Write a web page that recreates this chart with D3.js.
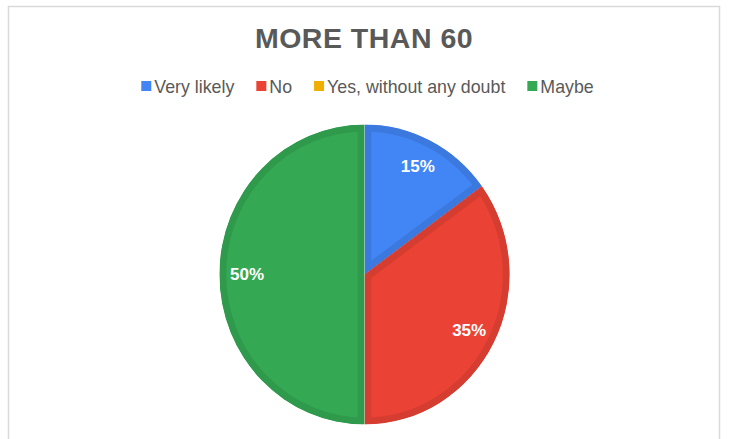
<!DOCTYPE html>
<html>
<head>
<meta charset="utf-8">
<script src="https://cdn.jsdelivr.net/npm/d3@7"></script>
<style>
  html, body { margin: 0; padding: 0; background: #ffffff; }
  svg { display: block; font-family: "Liberation Sans", Arial, sans-serif; }
</style>
</head>
<body>
<svg id="chart" width="733" height="439"></svg>
<script>
// Survey answers for the "MORE THAN 60" group
const title = "MORE THAN 60";
const categories = ["Very likely", "No", "Yes, without any doubt", "Maybe"];
const values = [15, 35, 0, 50];
const colors = ["#4285F4", "#EA4335", "#F0AE00", "#34A853"];

const W = 733, H = 439;
const svg = d3.select("#chart");

// Chart frame
svg.append("rect")
  .attr("x", 8.5).attr("y", 6.5)
  .attr("width", 711).attr("height", 460)
  .attr("fill", "#ffffff")
  .attr("stroke", "#d9d9d9")
  .attr("stroke-width", 1.5);

// Title
svg.append("text")
  .attr("x", 364).attr("y", 48)
  .attr("text-anchor", "middle")
  .attr("font-size", 28.5)
  .attr("font-weight", "bold")
  .attr("fill", "#595959")
  .attr("letter-spacing", 0.5)
  .text(title);

// Legend: swatch + label, laid out from measured text widths and centred
const legend = svg.append("g");
const fontSize = 17.8, sw = 10, gapIn = 3, gapOut = 22;
const items = legend.selectAll("g.item").data(categories).join("g").attr("class", "item");
items.append("rect")
  .attr("width", sw).attr("height", sw)
  .attr("y", 81)
  .attr("fill", (d, i) => colors[i]);
items.append("text")
  .attr("x", sw + gapIn).attr("y", 93)
  .attr("font-size", fontSize)
  .attr("fill", "#595959")
  .text(d => d);
let xPos = 0;
const offsets = [];
items.each(function () {
  const tw = d3.select(this).select("text").node().getComputedTextLength();
  offsets.push(xPos);
  xPos += sw + gapIn + tw + gapOut;
});
const legendWidth = xPos - gapOut;
const legendStart = 367.5 - legendWidth / 2;
items.attr("transform", (d, i) => `translate(${legendStart + offsets[i]},0)`);

// Pie
const cx = 364.5, cy = 274.5, r = 150, sx = 0.967;
const band = 7;
const pie = d3.pie().sort(null).value(d => d.value);
const data = categories.map((c, i) => ({ name: c, value: values[i], color: colors[i] }));
const arcs = pie(data).filter(d => d.data.value > 0);
const arc = d3.arc().innerRadius(0).outerRadius(r);

const defs = svg.append("defs");
const pieG = svg.append("g").attr("transform", `translate(${cx},${cy})`);
const shapes = pieG.append("g").attr("transform", `scale(${sx},1)`);

arcs.forEach((d, i) => {
  const id = "slice-clip-" + i;
  defs.append("clipPath").attr("id", id)
    .append("path").attr("d", arc(d));
  const base = d3.rgb(d.data.color);
  const edge = d3.rgb(base.r * 0.91, base.g * 0.91, base.b * 0.91);
  shapes.append("path")
    .attr("d", arc(d))
    .attr("clip-path", `url(#${id})`)
    .attr("fill", base.formatHex())
    .attr("stroke", edge.formatHex())
    .attr("stroke-width", band * 2)
    .attr("stroke-linejoin", "miter");
});

// Percentage labels
const total = d3.sum(values);
const labelArc = d3.arc().innerRadius(r * 0.81).outerRadius(r * 0.81);
pieG.selectAll("text.pct").data(arcs).join("text")
  .attr("class", "pct")
  .attr("transform", d => {
    const [x, y] = labelArc.centroid(d);
    return `translate(${x * sx},${y})`;
  })
  .attr("text-anchor", "middle")
  .attr("dy", "0.35em")
  .attr("font-size", 17)
  .attr("font-weight", "bold")
  .attr("fill", "#ffffff")
  .text(d => Math.round(d.data.value / total * 100) + "%");
</script>
</body>
</html>
